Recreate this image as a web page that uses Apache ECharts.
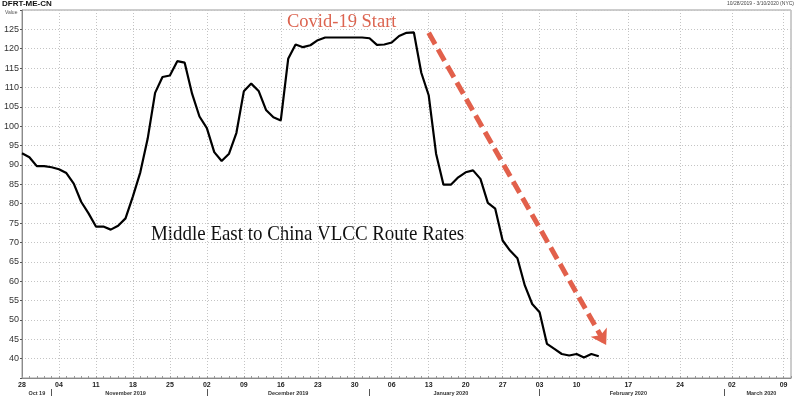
<!DOCTYPE html>
<html>
<head>
<meta charset="utf-8">
<script src="https://cdn.jsdelivr.net/npm/echarts@6/dist/echarts.min.js"></script>
<style>
  html, body { margin: 0; padding: 0; background: #fff; }
  #chart { width: 800px; height: 398px; }
</style>
</head>
<body>
<div id="chart"></div>
<script>
// trading days up to the last print, calendar days after that
const firstDay = '2019-10-28'
const lastDataDay = '2020-02-13'
const lastDay = '2020-03-10'

// DFRT-ME-CN, one value per trading day from Oct 28
const rates = [
  93.0, 92.0, 89.7, 89.7, 89.4, 88.9, 87.9, 85.2, 80.5, 77.5,
  74.1, 74.1, 73.3, 74.3, 76.2, 81.9, 88.1, 96.8, 108.6, 112.7,
  113.1, 116.8, 116.4, 108.4, 102.5, 99.5, 93.3, 91.0, 92.9, 98.3,
  109.0, 111.0, 109.1, 104.2, 102.3, 101.5, 117.4, 121.1, 120.4, 120.9,
  122.2, 122.9, 122.9, 122.9, 122.9, 122.9, 122.9, 122.7, 121.0, 121.1,
  121.6, 123.3, 124.1, 124.2, 113.8, 108.0, 92.9, 84.9, 84.9, 86.8,
  88.1, 88.6, 86.4, 80.2, 78.7, 70.5, 67.9, 65.9, 58.9, 54.1,
  52.0, 43.8, 42.5, 41.2, 40.8, 41.2, 40.3, 41.2, 40.6
]

const monthLabels = ['Oct 19', 'November 2019', 'December 2019', 'January 2020', 'February 2020', 'March 2020']

// red trend arrow, [category index, value]
const arrowFrom = [55, 124.1]
const arrowTo = [79, 43.5]

function buildDays() {
  let out = []
  let d = new Date(firstDay + 'T00:00:00Z')
  let end = new Date(lastDay + 'T00:00:00Z')
  while (d <= end) {
    let s = d.toISOString().slice(0, 10)
    let wd = d.getUTCDay()
    if (s > lastDataDay || (wd !== 0 && wd !== 6)) out.push(s)
    d = new Date(d.getTime() + 86400000)
  }
  return out
}

const days = buildDays()

// month spans -> separator at first day, label in the middle
let spans = []
days.forEach((s, i) => {
  let m = s.slice(0, 7)
  if (!spans.length || spans[spans.length - 1].m !== m) spans.push({m: m, a: i, b: i})
  else spans[spans.length - 1].b = i
})
let monthStart = {}
let monthMid = {}
spans.forEach((sp, k) => {
  monthStart[sp.a] = true
  monthMid[Math.round((sp.a + sp.b) / 2)] = monthLabels[k]
})

const isMonday = (idx, val) => new Date(val + 'T00:00:00Z').getUTCDay() === 1

let myChart = echarts.init(document.getElementById('chart'))

let option = {
  animation: false,
  backgroundColor: '#fff',
  grid: {
    left: 22,
    right: 9,
    top: 10,
    bottom: 20,
    show: true,
    borderColor: '#9a9a9a',
    borderWidth: 1
  },
  xAxis: [
    {
      type: 'category',
      data: days,
      boundaryGap: false,
      axisLine: {lineStyle: {color: '#8a8a8a'}},
      axisTick: {show: true, interval: 0, inside: true, length: 2, lineStyle: {color: '#999'}},
      axisLabel: {
        interval: isMonday,
        formatter: v => v.slice(8),
        fontFamily: 'Arial',
        fontWeight: 'bold',
        fontSize: 7,
        color: '#222',
        margin: 4
      },
      splitLine: {show: true, interval: isMonday, lineStyle: {color: '#c4c4c4', type: [1, 2]}}
    },
    {
      type: 'category',
      data: days,
      boundaryGap: false,
      position: 'bottom',
      offset: 11,
      axisLine: {show: false},
      axisTick: {
        show: true,
        interval: (idx) => idx > 0 && !!monthStart[idx],
        length: 7,
        lineStyle: {color: '#555'}
      },
      axisLabel: {
        interval: (idx) => monthMid[idx] !== undefined,
        formatter: (v, idx) => monthMid[idx] || '',
        fontFamily: 'Arial',
        fontWeight: 'bold',
        fontSize: 5.5,
        color: '#333',
        margin: 1
      },
      splitLine: {show: false}
    }
  ],
  yAxis: {
    type: 'value',
    min: 35,
    max: 130,
    interval: 5,
    axisLine: {show: true, lineStyle: {color: '#8a8a8a'}},
    axisTick: {show: true, length: 2, lineStyle: {color: '#555'}},
    axisLabel: {
      formatter: v => (v === 35 || v === 130) ? '' : String(v),
      fontFamily: 'Arial',
      fontSize: 9,
      color: '#333',
      margin: 3
    },
    splitLine: {show: true, lineStyle: {color: '#c4c4c4', type: [1, 2]}}
  },
  series: [
    {
      name: 'DFRT-ME-CN',
      type: 'line',
      data: rates,
      showSymbol: false,
      lineStyle: {color: '#000', width: 2.2},
      markLine: {
        silent: true,
        symbol: ['none', 'arrow'],
        symbolSize: [14, 15],
        label: {show: false},
        lineStyle: {color: '#e2604b', width: 5, type: [13, 6], opacity: 1},
        itemStyle: {color: '#e2604b'},
        data: [[{coord: arrowFrom}, {coord: arrowTo}]]
      }
    }
  ],
  graphic: [
    {type: 'text', left: 2, top: 0, style: {text: 'DFRT-ME-CN', font: 'bold 8px Arial', fill: '#111'}},
    {type: 'text', left: 5, top: 10, style: {text: 'Value', font: '5px Arial', fill: '#555'}},
    {type: 'text', right: 6, top: 1, style: {text: '10/28/2019 - 3/10/2020 (NYC)', font: '5px Arial', fill: '#444'}},
    {type: 'text', left: 287, top: 12.5, style: {text: 'Covid-19 Start', font: '18.5px "Liberation Serif"', fill: '#dc6450'}},
    {
      type: 'text', left: 151, top: 223, scaleX: 0.88,
      style: {text: 'Middle East to China VLCC Route Rates', font: '21.5px "Liberation Serif"', fill: '#111'}
    }
  ]
}

myChart.setOption(option)
window.addEventListener('resize', () => { myChart.resize() })
</script>
</body>
</html>
